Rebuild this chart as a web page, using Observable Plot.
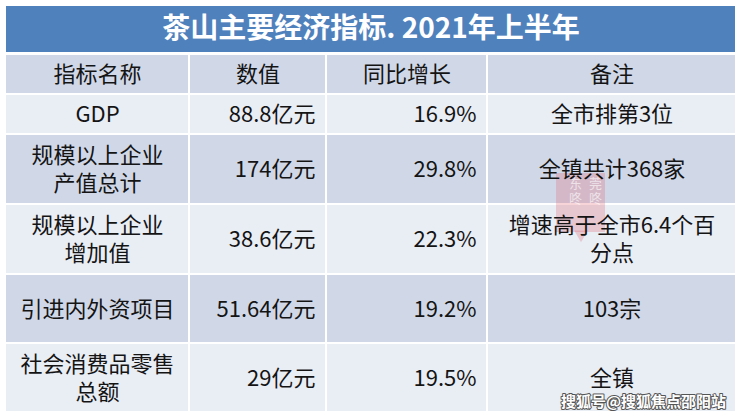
<!DOCTYPE html>
<html><head><meta charset="utf-8">
<script src="https://cdn.jsdelivr.net/npm/d3@7"></script>
<script src="https://cdn.jsdelivr.net/npm/@observablehq/plot@0.6"></script>
<style>body{margin:0;background:#fff} svg{display:block}</style>
</head><body><div id="chart"></div>
<script>
// ---- data ----
const title = "茶山主要经济指标. 2021年上半年";
const headers = ["指标名称", "数值", "同比增长", "备注"];
const indicators = ["GDP", "规模以上企业\n产值总计", "规模以上企业\n增加值", "引进内外资项目", "社会消费品零售\n总额"];
const values = ["88.8亿元", "174亿元", "38.6亿元", "51.64亿元", "29亿元"];
const growth = ["16.9%", "29.8%", "22.3%", "19.2%", "19.5%"];
const notes = ["全市排第3位", "全镇共计368家", "增速高于全市6.4个百\n分点", "103宗", "全镇"];
const watermark = "搜狐号@搜狐焦点邵阳站";
const stampChars = ["东", "莞", "咚", "咚"];

// ---- layout ----
const W = 740, H = 418, padLeft = 6, padTop = 6;
const colWidths = [184, 137, 161, 247];
const titleH = 46, titleGap = 3, gap = 2;
const rowHeights = [38, 38, 68, 68, 67, 67];
const colors = {title: "#4F81BD", dark: "#D0D8E8", light: "#E9EDF4", text: "#141414"};
const anchors = ["middle", "end", "end", "middle"];

const colX = [];
{ let x = padLeft; for (let c = 0; c < colWidths.length; c++) { colX.push([x, x + colWidths[c] - (c < colWidths.length - 1 ? gap : 0)]); x += colWidths[c]; } }
const tableRight = colX[colX.length - 1][1];
const rowY = [];
{ let y = padTop + titleH + titleGap; for (const h of rowHeights) { rowY.push([y, y + h]); y += h + gap; } }

const rows = [headers, ...indicators.map((d, i) => [d, values[i], growth[i], notes[i]])];
const cells = [];
rows.forEach((row, r) => row.forEach((text, c) => {
  const [x1, x2] = colX[c], [y1, y2] = rowY[r];
  const anchor = r === 0 ? "middle" : anchors[c];
  cells.push({
    x1, x2, y1, y2, text, anchor,
    fill: r % 2 === 0 ? colors.dark : colors.light,
    tx: anchor === "middle" ? (x1 + x2) / 2 : x2 - 10,
    ty: (y1 + y2) / 2
  });
}));
const titleCell = {x1: padLeft, x2: tableRight, y1: padTop, y2: padTop + titleH, text: title};

// stamp (watermark) geometry
const stamp = {x1: 556, x2: 605, y1: 173, y2: 232};
const stampCells = stampChars.map((ch, i) => ({
  text: ch,
  x: stamp.x1 + 19 + (i % 2) * 20,
  y: stamp.y1 + 10 + Math.floor(i / 2) * 15
}));

const textOpts = {
  x: "tx", y: "ty", text: "text", fontSize: 22, lineHeight: 1.27, dy: -1,
  fill: colors.text
};

const plot = Plot.plot({
  width: W, height: H, margin: 0,
  x: {type: "linear", domain: [0, W], range: [0, W], axis: null},
  y: {type: "linear", domain: [0, H], range: [0, H], axis: null},
  color: {type: "identity"},
  style: {background: "#fff", fontFamily: "'Noto Sans CJK SC', 'Noto Sans', sans-serif"},
  marks: [
    Plot.rect([titleCell], {x1: "x1", x2: "x2", y1: "y1", y2: "y2", fill: colors.title}),
    Plot.rect(cells, {x1: "x1", x2: "x2", y1: "y1", y2: "y2", fill: "fill"}),
    Plot.rect([stamp], {x1: "x1", x2: "x2", y1: "y1", y2: "y2", fill: "#e06474", fillOpacity: 0.28}),
    Plot.dot([stamp], {x: d => (d.x1 + d.x2) / 2, y: d => d.y2 + 2, symbol: "triangle", rotate: 180, r: 5, fill: "#e06474", fillOpacity: 0.28}),
    Plot.text(stampCells, {x: "x", y: "y", text: "text", fontSize: 13, fill: "#fff", fillOpacity: 0.6}),
    Plot.text(cells.filter(d => d.anchor === "middle"), {...textOpts, textAnchor: "middle"}),
    Plot.text(cells.filter(d => d.anchor === "end"), {...textOpts, textAnchor: "end"}),
    Plot.text([titleCell], {x: d => (d.x1 + d.x2) / 2, y: d => (d.y1 + d.y2) / 2, text: "text", fontSize: 28, fontWeight: "bold", fill: "#fff"}),
    Plot.text([watermark], {x: () => 643, y: () => 402, text: d => d, fontSize: 15, fontWeight: "bold", fill: "#fff", stroke: "#555", strokeWidth: 2, paintOrder: "stroke"})
  ]
});
document.getElementById("chart").append(plot);
</script>
</body></html>
